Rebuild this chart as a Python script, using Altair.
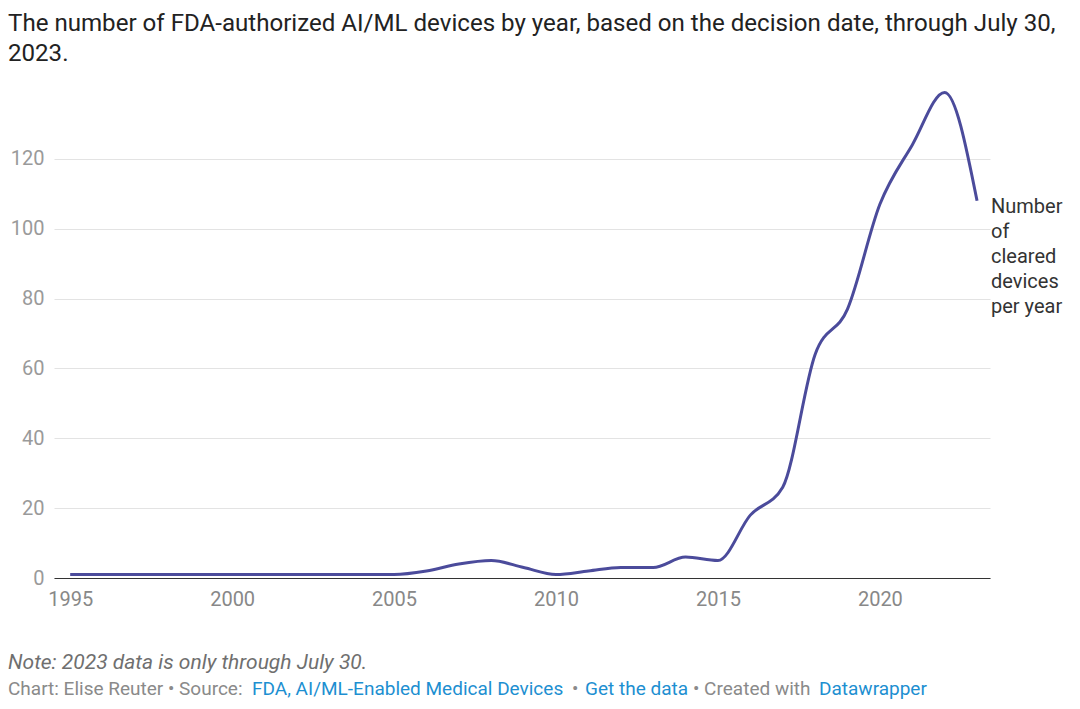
import altair as alt
import pandas as pd

years = list(range(1995, 2024))
counts = [1, 1, 1, 1, 1, 1, 1, 1, 1, 1, 1,
          2, 4, 5, 3, 1, 2, 3, 3, 6, 5, 18, 26, 64, 77, 107, 124, 139, 108]
y_ticks = [0, 20, 40, 60, 80, 100, 120]
x_ticks = [1995, 2000, 2005, 2010, 2015, 2020]

title_lines = ["The number of FDA-authorized AI/ML devices by year, based on the decision date, through July 30,",
               "2023."]
series_label = ["Number", "of", "cleared", "devices", "per year"]
note_text = "Note: 2023 data is only through July 30."
source_parts = [
    ("Chart: Elise Reuter • Source: ", "#8a8a8a", -46),
    ("FDA, AI/ML-Enabled Medical Devices", "#1d8fd1", 198),
    ("•", "#8a8a8a", 518),
    ("Get the data", "#1d8fd1", 531),
    ("• Created with", "#8a8a8a", 639),
    ("Datawrapper", "#1d8fd1", 765),
]

df = pd.DataFrame({"year": years, "count": counts})
one = pd.DataFrame({"k": [0]})
FONT = "Roboto"

line = alt.Chart(df).mark_line(
    interpolate="monotone", color="#4b4b9b", strokeWidth=3
).encode(
    x=alt.X("year:Q", scale=alt.Scale(domain=[1994.5, 2023.4], nice=False, zero=False),
            axis=alt.Axis(values=x_ticks, format="d", title=None, grid=False, ticks=False,
                          domain=True, domainColor="#333333", domainWidth=1.2,
                          labelColor="#888888", labelFontSize=20, labelFont=FONT,
                          labelPadding=11)),
    y=alt.Y("count:Q", scale=alt.Scale(domain=[0, 140], nice=False),
            axis=alt.Axis(values=y_ticks, title=None, grid=True, gridColor="#e3e3e3",
                          ticks=False, domain=False, labelColor="#9a9a9a",
                          labelFontSize=20, labelFont=FONT, labelPadding=10,
                          labelAlign="right", labelBaseline="middle")),
)

layers = [line]

def txt(text, x, y, color="#222222", size=17, style="normal", align="left"):
    return alt.Chart(one).mark_text(
        align=align, baseline="alphabetic", font=FONT, fontSize=size,
        fontStyle=style, color=color
    ).encode(text=alt.value(text), x=alt.value(x), y=alt.value(y))

layers.append(txt(title_lines[0], -46, -58, "#222222", 24.1))
layers.append(txt(title_lines[1], -46, -28, "#222222", 24.1))
for i, s in enumerate(series_label):
    layers.append(txt(s, 937, 124 + 25 * i, "#333333", 20))
layers.append(txt(note_text, -46, 580, "#6f6f6f", 21, "italic"))
for s, c, x in source_parts:
    layers.append(txt(s, x, 606, c, 19))

chart = alt.layer(*layers).properties(
    width=936, height=489,
    autosize=alt.AutoSizeParams(type="none"),
    padding={"left": 46, "top": 81, "right": 82, "bottom": 123},
).configure_view(stroke=None)

chart.save("out.html", embed_options={"renderer": "svg", "actions": False})
